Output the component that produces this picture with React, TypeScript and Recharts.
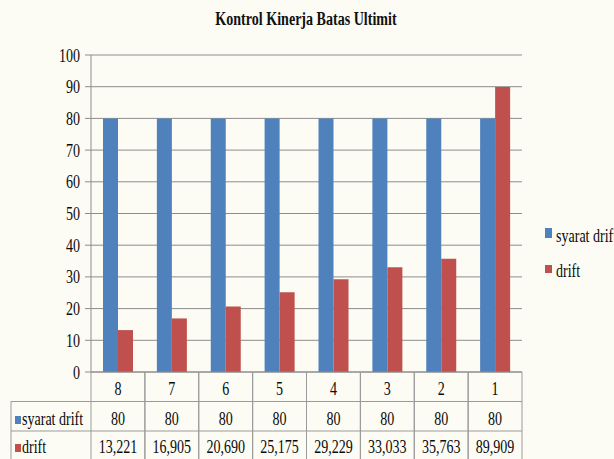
import React from 'react';
import { BarChart, Bar, XAxis, YAxis, CartesianGrid, Legend } from 'recharts';

const categories = ['8', '7', '6', '5', '4', '3', '2', '1'];
const syaratDrift = [80, 80, 80, 80, 80, 80, 80, 80];
const drift = [13.221, 16.905, 20.69, 25.175, 29.229, 33.033, 35.763, 89.909];
const yTicks = [0, 10, 20, 30, 40, 50, 60, 70, 80, 90, 100];

const seriesNames = ['syarat drift', 'drift'];
const seriesColors = ['#4f81bd', '#c0504d'];

const data = categories.map((cat, i) => ({
  cat,
  syarat: syaratDrift[i],
  drift: drift[i],
}));

// Excel-style comma decimals
const fmt = (v: number, digits: number) => v.toFixed(digits).replace('.', ',');

const W = 614;
const H = 459;
const MARGIN = { top: 55, right: 92, bottom: 0, left: 0 };
const Y_AXIS_W = 91;
const X_AXIS_H = 87;
const BAND = (W - MARGIN.left - MARGIN.right - Y_AXIS_W) / categories.length;
const ROW_H = 29.5;
const FONT = '"Liberation Serif", "Times New Roman", serif';
const FS = 19.5;
const SQUEEZE = 0.72;
const BORDER = '#9a9a9a';
const GRID = '#8c8c8c';

// narrow serif text like the original
const Txt = ({ x, y, anchor = 'middle', children, weight = 'normal', size = FS }: any) => (
  <text
    transform={`translate(${x},${y}) scale(${SQUEEZE},1)`}
    textAnchor={anchor}
    fontFamily={FONT}
    fontSize={size}
    fontWeight={weight}
    fill="#0a0a0a"
  >
    {children}
  </text>
);

const YTick = ({ x, y, payload }: any) => (
  <Txt x={x} y={y + 6.5} anchor="end">
    {payload.value}
  </Txt>
);

// each x tick draws its column of the data table
const TableTick = ({ x, y, payload }: any) => {
  const i = categories.indexOf(String(payload.value));
  const left = x - BAND / 2;
  const right = x + BAND / 2;
  const bottom = y + ROW_H * 3 + 2;
  return (
    <g>
      <line x1={left} y1={y} x2={left} y2={bottom} stroke={BORDER} />
      <line x1={right} y1={y} x2={right} y2={bottom} stroke={BORDER} />
      <line x1={left} y1={y + ROW_H} x2={right} y2={y + ROW_H} stroke={BORDER} />
      <line x1={left} y1={y + ROW_H * 2} x2={right} y2={y + ROW_H * 2} stroke={BORDER} />
      <Txt x={x} y={y + 23}>{payload.value}</Txt>
      <Txt x={x} y={y + 53}>{syaratDrift[i]}</Txt>
      <Txt x={x} y={y + 81}>{fmt(drift[i], 3)}</Txt>
      {i === 0 && (
        <g>
          <line x1={11} y1={y + ROW_H} x2={left} y2={y + ROW_H} stroke={BORDER} />
          <line x1={11} y1={y + ROW_H * 2} x2={left} y2={y + ROW_H * 2} stroke={BORDER} />
          <line x1={11} y1={y + ROW_H} x2={11} y2={bottom} stroke={BORDER} />
          <rect x={15} y={y + 44} width={6} height={8} fill={seriesColors[0]} />
          <Txt x={22} y={y + 53} anchor="start">{seriesNames[0]}</Txt>
          <rect x={15} y={y + 72} width={6} height={8} fill={seriesColors[1]} />
          <Txt x={22} y={y + 81} anchor="start">{seriesNames[1]}</Txt>
        </g>
      )}
    </g>
  );
};

const LegendBox = () => (
  <svg width={74} height={70} style={{ display: 'block', overflow: 'hidden' }}>
    <rect x={5} y={8} width={7} height={10} fill={seriesColors[0]} />
    <Txt x={16} y={22} anchor="start">{seriesNames[0]}</Txt>
    <rect x={5} y={45} width={7} height={8} fill={seriesColors[1]} />
    <Txt x={16} y={57} anchor="start">{seriesNames[1]}</Txt>
  </svg>
);

export default function App() {
  return (
    <div
      style={{
        position: 'absolute',
        left: 0,
        top: 0,
        width: W,
        height: H,
        overflow: 'hidden',
        background: '#fcfcf5',
      }}
    >
      <div
        style={{
          position: 'absolute',
          left: 0,
          top: 8,
          width: W - 2,
          textAlign: 'center',
          fontFamily: FONT,
          fontWeight: 'bold',
          fontSize: 18.5,
          lineHeight: '22px',
          color: '#111',
          transform: `scaleX(0.76)`,
        }}
      >
        Kontrol Kinerja Batas Ultimit
      </div>
      <BarChart width={W} height={H} data={data} margin={MARGIN} barGap={0} barSize={15}>
        <CartesianGrid vertical={false} stroke={GRID} />
        <XAxis
          dataKey="cat"
          height={X_AXIS_H}
          tickSize={0}
          tickMargin={0}
          axisLine={{ stroke: GRID }}
          tickLine={false}
          tick={<TableTick />}
          interval={0}
        />
        <YAxis
          width={Y_AXIS_W}
          domain={[0, 100]}
          ticks={yTicks}
          tickSize={6}
          tickMargin={5}
          axisLine={{ stroke: GRID }}
          tickLine={{ stroke: GRID }}
          tick={<YTick />}
          interval={0}
        />
        <Legend
          layout="vertical"
          align="center"
          verticalAlign="middle"
          wrapperStyle={{ position: 'absolute', left: 540, top: 220, width: 74 }}
          content={<LegendBox />}
        />
        <Bar dataKey="syarat" name={seriesNames[0]} fill={seriesColors[0]} isAnimationActive={false} />
        <Bar dataKey="drift" name={seriesNames[1]} fill={seriesColors[1]} isAnimationActive={false} />
      </BarChart>
    </div>
  );
}
